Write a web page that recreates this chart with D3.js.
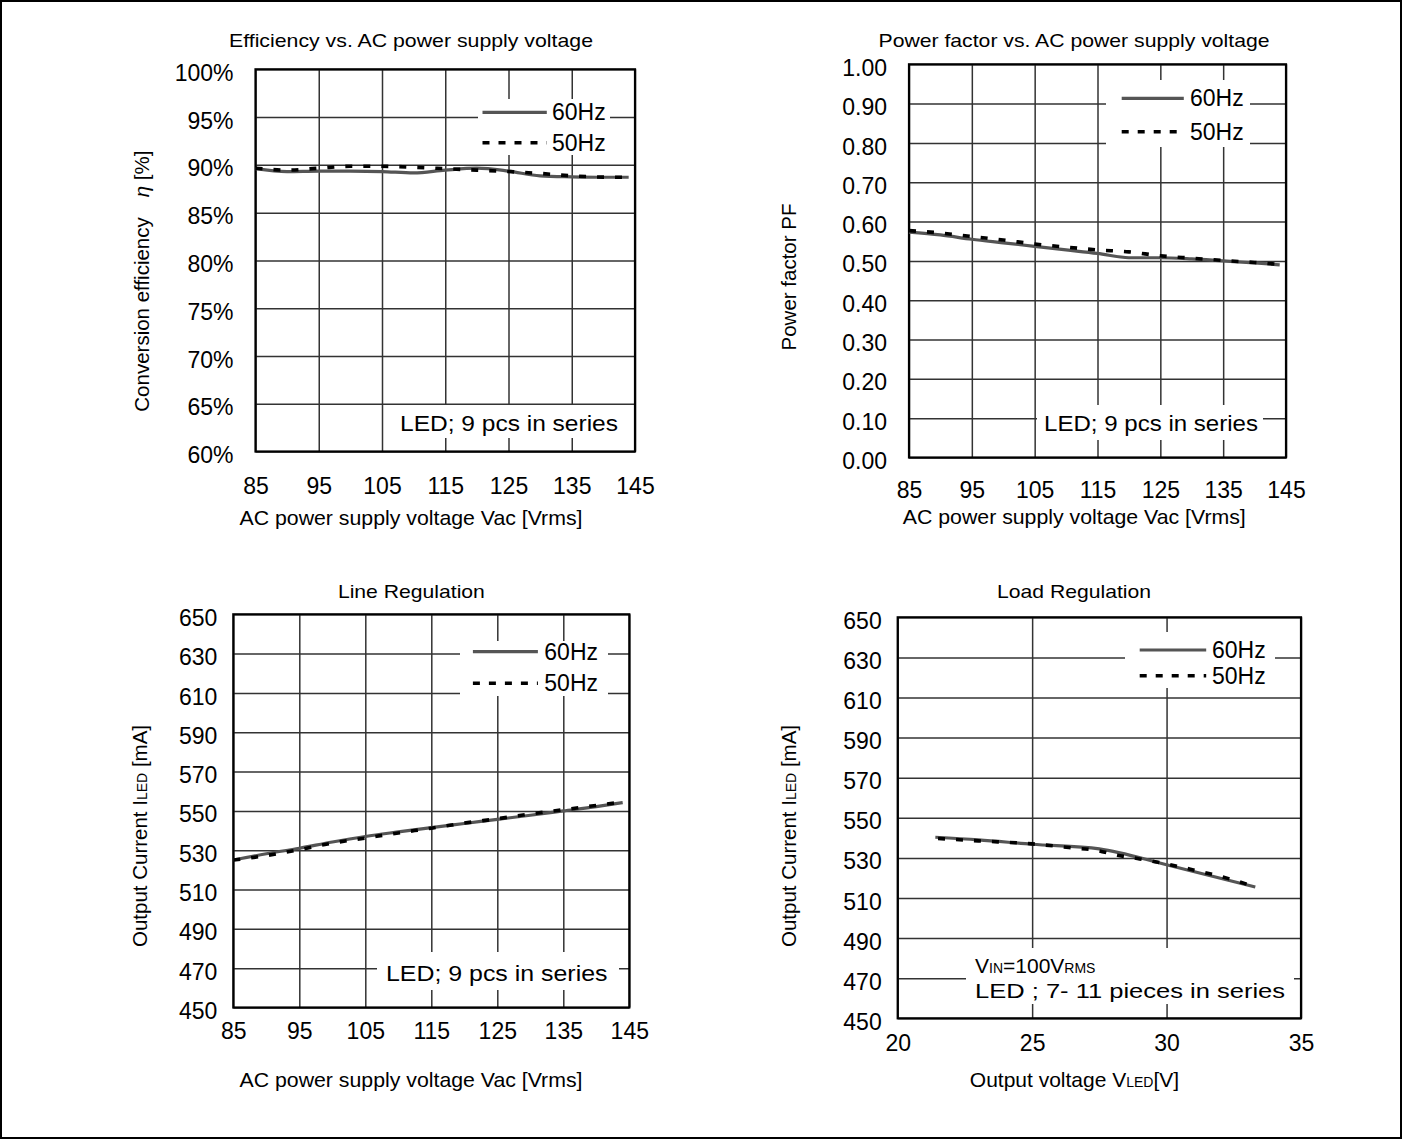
<!DOCTYPE html>
<html>
<head>
<meta charset="utf-8">
<script src="https://cdn.jsdelivr.net/npm/d3@7"></script>
<style>
  body { margin: 0; background: #fff; }
  svg { display: block; font-family: "Liberation Sans", Arial, sans-serif; }
</style>
</head>
<body>
<svg id="chart" width="1403" height="1140"></svg>
<script>
// ---- data ----
var acVoltage = [85, 90, 95, 100, 105, 110, 115, 120, 125, 130, 135, 140, 144];
var eff60 = [89.6, 89.3, 89.35, 89.35, 89.3, 89.15, 89.45, 89.65, 89.35, 88.85, 88.75, 88.7, 88.7];
var eff50 = [89.65, 89.45, 89.65, 89.85, 89.85, 89.75, 89.6, 89.45, 89.3, 89.1, 88.85, 88.72, 88.7];
var pf60 = [0.573, 0.566, 0.555, 0.546, 0.537, 0.528, 0.519, 0.508, 0.508, 0.505, 0.500, 0.495, 0.490];
var pf50 = [0.577, 0.571, 0.562, 0.553, 0.543, 0.535, 0.528, 0.523, 0.513, 0.507, 0.501, 0.496, 0.491];
var line60 = [525, 528.2, 531, 534.2, 537, 539.3, 541.5, 543.6, 545.7, 547.8, 550, 552.2, 554.2];
var line50 = [525, 527.3, 530.3, 533.6, 536.2, 538.8, 541.2, 543.8, 546, 548.4, 550.6, 552.8, 554.5];
var ledV60 = [21.4, 23, 25, 27.5, 30, 33.3];
var load60 = [540.3, 539, 536.8, 534.5, 526.6, 515.5];
var ledV50 = [21.5, 23, 25, 26.5, 27.5, 28, 29, 30, 31, 32, 33.2];
var load50 = [539.7, 538.5, 537, 535, 533.5, 531.8, 529.5, 527, 524, 520.8, 516];

// tick labels
var acTicks = [85, 95, 105, 115, 125, 135, 145];
var ledVTicks = [20, 25, 30, 35];
var effTicks = [60, 65, 70, 75, 80, 85, 90, 95, 100];
var pfTicks = [0, 0.1, 0.2, 0.3, 0.4, 0.5, 0.6, 0.7, 0.8, 0.9, 1.0];
var currentTicks = [450, 470, 490, 510, 530, 550, 570, 590, 610, 630, 650];
var seriesNames = ["60Hz", "50Hz"];

var svg = d3.select("#chart");
svg.append("rect").attr("x", 1).attr("y", 1).attr("width", 1400).attr("height", 1137)
    .attr("fill", "none").attr("stroke", "#000").attr("stroke-width", 2);

function zip(xs, ys) {
    return xs.map(function(v, i) { return [v, ys[i]]; });
}

var panels = [
    {left: 255.5, top: 69.3, right: 635, bottom: 451.5,
     xTicks: acTicks, yTicks: effTicks, yFmt: function(d) { return d + "%"; },
     s60: zip(acVoltage, eff60), s50: zip(acVoltage, eff50),
     xTickOff: 34, yTickGap: 22,
     title: "Efficiency vs. AC power supply voltage", titleX: 411, titleY: 40, titleLen: 364,
     xLabel: "AC power supply voltage Vac [Vrms]", xLabelX: 411, xLabelY: 518, xLabelLen: 343,
     yLabelX: 141.4,
     leg: {x1: 482.5, x2: 546.8, y60: 112.3, y50: 142.7, tx: 552, box: [478, 99, 132, 56]},
     note: {x: 400, y: 423.3, len: 218, box: [395, 405, 228, 33]}},
    {left: 909, top: 64.3, right: 1286, bottom: 457.5,
     xTicks: acTicks, yTicks: pfTicks, yFmt: function(d) { return d.toFixed(2); },
     s60: zip(acVoltage, pf60), s50: zip(acVoltage, pf50),
     xTickOff: 32, yTickGap: 22,
     title: "Power factor vs. AC power supply voltage", titleX: 1074, titleY: 40, titleLen: 391,
     xLabel: "AC power supply voltage Vac [Vrms]", xLabelX: 1074.3, xLabelY: 516.7, xLabelLen: 343,
     yLabelX: 789,
     leg: {x1: 1121.7, x2: 1183.8, y60: 98.3, y50: 131.7, tx: 1190, box: [1106, 80, 144, 67]},
     note: {x: 1044, y: 423.3, len: 214, box: [1037, 405, 226, 35]}},
    {left: 233.3, top: 614.3, right: 629.3, bottom: 1007.5,
     xTicks: acTicks, yTicks: currentTicks, yFmt: String,
     s60: zip(acVoltage, line60), s50: zip(acVoltage, line50),
     xTickOff: 23, yTickGap: 16,
     title: "Line Regulation", titleX: 411.4, titleY: 591.7, titleLen: 147,
     xLabel: "AC power supply voltage Vac [Vrms]", xLabelX: 411, xLabelY: 1080, xLabelLen: 343,
     yLabelX: 139.6,
     leg: {x1: 472.9, x2: 537.9, y60: 651.7, y50: 683.3, tx: 544.3, box: [460, 641, 148, 55]},
     note: {x: 386, y: 973.3, len: 221.5, box: [377, 952, 242, 38]}},
    {left: 897.7, top: 617.3, right: 1301, bottom: 1018.3,
     xTicks: ledVTicks, yTicks: currentTicks, yFmt: String,
     s60: zip(ledV60, load60), s50: zip(ledV50, load50),
     xTickOff: 25, yTickGap: 16,
     title: "Load Regulation", titleX: 1074, titleY: 591.7, titleLen: 154,
     xLabelX: 1074.5, xLabelY: 1080,
     yLabelX: 789,
     leg: {x1: 1139.7, x2: 1206.2, y60: 650, y50: 675.7, tx: 1212, box: [1125, 632, 150, 56]},
     note: {x: 975, y: 966, len: 310, box: [966, 948, 328, 56]}}
];

var line = d3.line().curve(d3.curveMonotoneX);

panels.forEach(function(p, idx) {
    var x = d3.scaleLinear().domain(d3.extent(p.xTicks)).range([p.left, p.right]);
    var y = d3.scaleLinear().domain(d3.extent(p.yTicks)).range([p.bottom, p.top]);
    var g = svg.append("g");

    // grid + tick labels
    var xa = g.append("g").attr("transform", "translate(0," + p.bottom + ")")
        .call(d3.axisBottom(x).tickValues(p.xTicks).tickSize(-(p.bottom - p.top)));
    xa.select(".domain").remove();
    xa.selectAll("line").attr("stroke", "#333").attr("stroke-width", 1.5);
    xa.selectAll("text").attr("y", p.xTickOff).attr("dy", "0.35em")
        .attr("font-size", 23).attr("fill", "#000").attr("font-family", null);

    var ya = g.append("g").attr("transform", "translate(" + p.left + ",0)")
        .call(d3.axisLeft(y).tickValues(p.yTicks).tickFormat(p.yFmt).tickSize(-(p.right - p.left)));
    ya.select(".domain").remove();
    ya.selectAll("line").attr("stroke", "#333").attr("stroke-width", 1.5);
    ya.selectAll("text").attr("x", -p.yTickGap).attr("dy", "0.35em").attr("y", 3)
        .attr("font-size", 23).attr("fill", "#000").attr("font-family", null);

    // white boxes behind legend and note
    [p.leg.box, p.note.box].forEach(function(b) {
        g.append("rect").attr("x", b[0]).attr("y", b[1]).attr("width", b[2]).attr("height", b[3])
            .attr("fill", "#fff");
    });

    g.append("rect").attr("x", p.left).attr("y", p.top)
        .attr("width", p.right - p.left).attr("height", p.bottom - p.top)
        .attr("fill", "none").attr("stroke", "#000").attr("stroke-width", 2.2);

    line.x(function(d) { return x(d[0]); }).y(function(d) { return y(d[1]); });
    g.append("path").attr("d", line(p.s60)).attr("fill", "none")
        .attr("stroke", "#555").attr("stroke-width", 3.2);
    g.append("path").attr("d", line(p.s50)).attr("fill", "none")
        .attr("stroke", "#000").attr("stroke-width", 3.6).attr("stroke-dasharray", "7,11");

    // legend
    g.append("line").attr("x1", p.leg.x1).attr("x2", p.leg.x2).attr("y1", p.leg.y60).attr("y2", p.leg.y60)
        .attr("stroke", "#555").attr("stroke-width", 3.2);
    g.append("line").attr("x1", p.leg.x1).attr("x2", p.leg.x2).attr("y1", p.leg.y50).attr("y2", p.leg.y50)
        .attr("stroke", "#000").attr("stroke-width", 3.6).attr("stroke-dasharray", "7,9");
    [p.leg.y60, p.leg.y50].forEach(function(ly, i) {
        g.append("text").attr("x", p.leg.tx).attr("y", ly).attr("dy", "0.35em")
            .attr("font-size", 23).text(seriesNames[i]);
    });

    // title
    g.append("text").attr("x", p.titleX).attr("y", p.titleY).attr("dy", "0.35em")
        .attr("text-anchor", "middle").attr("font-size", 19)
        .attr("textLength", p.titleLen).attr("lengthAdjust", "spacingAndGlyphs").text(p.title);

    // x label
    if (p.xLabel) {
        g.append("text").attr("x", p.xLabelX).attr("y", p.xLabelY).attr("dy", "0.35em")
            .attr("text-anchor", "middle").attr("font-size", 21)
            .attr("textLength", p.xLabelLen).attr("lengthAdjust", "spacingAndGlyphs").text(p.xLabel);
    } else {
        var xl = g.append("text").attr("x", p.xLabelX).attr("y", p.xLabelY).attr("dy", "0.35em")
            .attr("text-anchor", "middle").attr("font-size", 21);
        xl.append("tspan").text("Output voltage V");
        xl.append("tspan").attr("font-size", 14).text("LED");
        xl.append("tspan").text("[V]");
    }

    // y label
    var yl = g.append("text").attr("dy", "0.35em").attr("font-size", 20.5);
    if (idx === 0) {
        yl.attr("transform", "translate(" + p.yLabelX + ",411.7) rotate(-90)").attr("text-anchor", "start");
        yl.append("tspan").text("Conversion efficiency");
        yl.append("tspan").attr("dx", 20).attr("font-style", "italic").text("\u03b7");
        yl.append("tspan").text(" [%]");
    } else if (idx === 1) {
        yl.attr("transform", "translate(" + p.yLabelX + ",277) rotate(-90)").attr("text-anchor", "middle")
            .text("Power factor PF");
    } else {
        yl.attr("transform", "translate(" + p.yLabelX + ",836) rotate(-90)").attr("text-anchor", "middle");
        yl.append("tspan").text("Output Current I");
        yl.append("tspan").attr("font-size", 14).text("LED");
        yl.append("tspan").text(" [mA]");
    }

    // note
    if (idx < 3) {
        g.append("text").attr("x", p.note.x).attr("y", p.note.y).attr("dy", "0.35em")
            .attr("font-size", 22.5).attr("textLength", p.note.len).attr("lengthAdjust", "spacingAndGlyphs")
            .text("LED; 9 pcs in series");
    } else {
        var n1 = g.append("text").attr("x", p.note.x).attr("y", p.note.y).attr("dy", "0.35em")
            .attr("font-size", 21);
        n1.append("tspan").text("V");
        n1.append("tspan").attr("font-size", 14).text("IN");
        n1.append("tspan").text("=100V");
        n1.append("tspan").attr("font-size", 14).text("RMS");
        g.append("text").attr("x", p.note.x).attr("y", p.note.y + 25).attr("dy", "0.35em")
            .attr("font-size", 21).attr("textLength", p.note.len).attr("lengthAdjust", "spacingAndGlyphs")
            .text("LED ; 7- 11 pieces in series");
    }
});
</script>
</body>
</html>
